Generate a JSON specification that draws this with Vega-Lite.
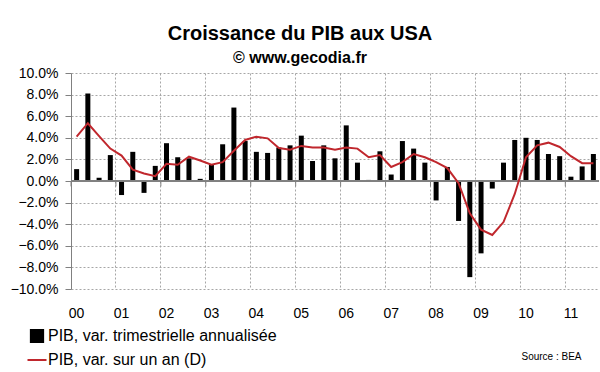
{
  "$schema": "https://vega.github.io/schema/vega-lite/v6.json",
  "width": 528,
  "height": 216,
  "autosize": {"type": "none"},
  "padding": {"left": 71, "top": 73, "right": 1, "bottom": 83},
  "background": "white",
  "config": {"font": "Liberation Sans", "view": {"stroke": null}},
  "title": {
    "text": "Croissance du PIB aux USA",
    "subtitle": "© www.gecodia.fr",
    "anchor": "middle",
    "frame": "group",
    "dx": -35,
    "fontSize": 20,
    "fontWeight": "bold",
    "color": "#000000",
    "subtitleFontSize": 16,
    "subtitleFontWeight": "bold",
    "subtitleColor": "#000000",
    "subtitlePadding": 6,
    "offset": 0
  },
  "data": {
    "values": [
      {"q": "2000T1", "trim": 1.1, "an": 4.1},
      {"q": "2000T2", "trim": 8.1, "an": 5.35},
      {"q": "2000T3", "trim": 0.3, "an": 4.15},
      {"q": "2000T4", "trim": 2.4, "an": 3.0},
      {"q": "2001T1", "trim": -1.3, "an": 2.35},
      {"q": "2001T2", "trim": 2.7, "an": 1.05},
      {"q": "2001T3", "trim": -1.1, "an": 0.7},
      {"q": "2001T4", "trim": 1.4, "an": 0.45},
      {"q": "2002T1", "trim": 3.5, "an": 1.6},
      {"q": "2002T2", "trim": 2.2, "an": 1.5},
      {"q": "2002T3", "trim": 2.1, "an": 2.25},
      {"q": "2002T4", "trim": 0.2, "an": 1.9},
      {"q": "2003T1", "trim": 1.5, "an": 1.5},
      {"q": "2003T2", "trim": 3.4, "an": 1.75},
      {"q": "2003T3", "trim": 6.8, "an": 2.8},
      {"q": "2003T4", "trim": 3.7, "an": 3.8},
      {"q": "2004T1", "trim": 2.7, "an": 4.1},
      {"q": "2004T2", "trim": 2.6, "an": 3.95},
      {"q": "2004T3", "trim": 3.1, "an": 3.05},
      {"q": "2004T4", "trim": 3.3, "an": 2.9},
      {"q": "2005T1", "trim": 4.2, "an": 3.25},
      {"q": "2005T2", "trim": 1.85, "an": 3.1},
      {"q": "2005T3", "trim": 3.3, "an": 3.1},
      {"q": "2005T4", "trim": 2.1, "an": 2.9},
      {"q": "2006T1", "trim": 5.15, "an": 3.1},
      {"q": "2006T2", "trim": 1.7, "an": 3.0},
      {"q": "2006T3", "trim": 0.1, "an": 2.2},
      {"q": "2006T4", "trim": 2.75, "an": 2.4},
      {"q": "2007T1", "trim": 0.6, "an": 1.3},
      {"q": "2007T2", "trim": 3.7, "an": 1.75},
      {"q": "2007T3", "trim": 3.0, "an": 2.5},
      {"q": "2007T4", "trim": 1.7, "an": 2.2},
      {"q": "2008T1", "trim": -1.8, "an": 1.75},
      {"q": "2008T2", "trim": 1.3, "an": 1.2},
      {"q": "2008T3", "trim": -3.7, "an": -0.2},
      {"q": "2008T4", "trim": -8.9, "an": -3.0},
      {"q": "2009T1", "trim": -6.7, "an": -4.5},
      {"q": "2009T2", "trim": -0.7, "an": -5.0},
      {"q": "2009T3", "trim": 1.7, "an": -3.8},
      {"q": "2009T4", "trim": 3.8, "an": -1.2},
      {"q": "2010T1", "trim": 4.0, "an": 2.2},
      {"q": "2010T2", "trim": 3.8, "an": 3.3},
      {"q": "2010T3", "trim": 2.5, "an": 3.55},
      {"q": "2010T4", "trim": 2.3, "an": 3.15},
      {"q": "2011T1", "trim": 0.4, "an": 2.3},
      {"q": "2011T2", "trim": 1.35, "an": 1.65},
      {"q": "2011T3", "trim": 2.5, "an": 1.65}
    ]
  },
  "encoding": {
    "x": {
      "field": "q",
      "type": "ordinal",
      "sort": null,
      "scale": {"paddingInner": 0, "paddingOuter": 0},
      "axis": {
        "values": ["2000T1", "2001T1", "2002T1", "2003T1", "2004T1", "2005T1", "2006T1", "2007T1", "2008T1", "2009T1", "2010T1", "2011T1"],
        "bandPosition": 0,
        "labelExpr": "slice(datum.value, 2, 4)",
        "labelAngle": 0,
        "labelDx": 5.6,
        "labelAlign": "center",
        "labelFontSize": 14,
        "labelColor": "#000000",
        "labelPadding": 17,
        "labelOverlap": false,
        "ticks": false,
        "domain": false,
        "grid": true,
        "gridDash": [2, 2],
        "gridColor": "#a6a6a6",
        "gridWidth": 1,
        "title": "Source : BEA",
        "titleFontSize": 10,
        "titleFontWeight": "normal",
        "titleColor": "#000000",
        "titleAnchor": "start",
        "titleAlign": "right",
        "titleBaseline": "middle",
        "titleX": 510,
        "titleY": 67
      }
    },
    "y": {
      "field": "trim",
      "type": "quantitative",
      "scale": {"domain": [-10, 10], "nice": false, "zero": false},
      "axis": {
        "values": [-10, -8, -6, -4, -2, 0, 2, 4, 6, 8, 10],
        "labelExpr": "format(datum.value, '.1f') + '%'",
        "labelFontSize": 14,
        "labelColor": "#000000",
        "labelPadding": 7,
        "labelOverlap": false,
        "labelFlush": false,
        "tickSize": 6,
        "tickColor": "#808080",
        "domainColor": "#808080",
        "grid": true,
        "gridDash": [2, 2],
        "gridColor": "#a6a6a6",
        "title": null
      }
    }
  },
  "layer": [
    {
      "mark": {"type": "bar", "size": 5},
      "encoding": {
        "color": {
          "datum": "PIB, var. trimestrielle annualisée",
          "type": "nominal",
          "scale": {
            "domain": ["PIB, var. trimestrielle annualisée", "PIB, var. sur un an (D)"],
            "range": ["#000000", "#c0272d"]
          },
          "legend": {
            "orient": "none",
            "legendX": -42,
            "legendY": 255,
            "title": null,
            "padding": 0,
            "labelFontSize": 16,
            "labelColor": "#000000",
            "labelOffset": 3,
            "labelLimit": 0,
            "symbolSize": 361,
            "rowPadding": 5,
            "direction": "vertical",
            "encode": {
              "symbols": {
                "update": {
                  "shape": {"signal": "datum.value == 'PIB, var. sur un an (D)' ? 'stroke' : 'square'"},
                  "size": {"signal": "datum.value == 'PIB, var. sur un an (D)' ? 361 : 150"},
                  "fill": {"scale": "color", "field": "value"},
                  "stroke": {"scale": "color", "field": "value"},
                  "strokeWidth": {"value": 2},
                  "opacity": {"value": 1},
                  "fillOpacity": {"value": 1}
                }
              }
            }
          }
        }
      }
    },
    {
      "mark": {"type": "rule", "color": "#808080", "strokeWidth": 1},
      "encoding": {"y": {"datum": 0}, "color": {"value": "#808080"}, "x": null}
    },
    {
      "transform": [{"filter": "slice(datum.q, 4) == 'T1'"}],
      "mark": {"type": "rule", "color": "#808080", "strokeWidth": 1},
      "encoding": {
        "x": {"field": "q", "type": "ordinal", "bandPosition": 0},
        "y": {"datum": 0},
        "y2": {"datum": -0.5},
        "color": {"value": "#808080"}
      }
    },
    {
      "mark": {"type": "line", "strokeWidth": 2},
      "encoding": {
        "y": {"field": "an", "type": "quantitative"},
        "color": {"datum": "PIB, var. sur un an (D)", "type": "nominal"}
      }
    }
  ]
}
